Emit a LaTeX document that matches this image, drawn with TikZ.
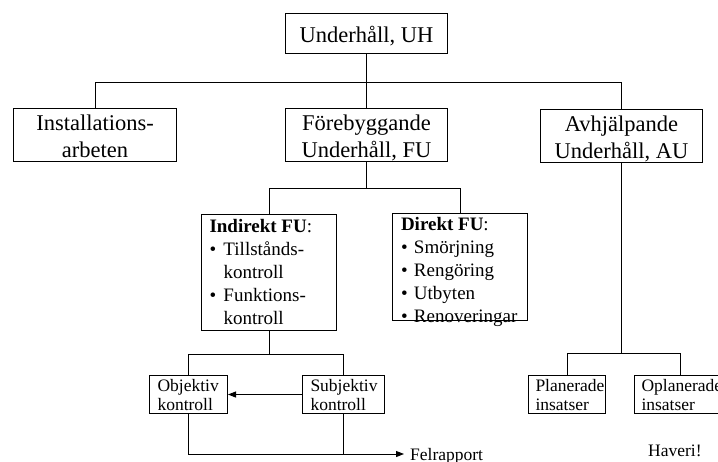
\documentclass[tikz,border=0pt]{standalone}
\usepackage{fontspec}
\setmainfont{Liberation Serif}
\usetikzlibrary{arrows.meta}

% font sizes for the three levels of the tree
\newcommand\fbig{\fontsize{22.5}{27.5}\selectfont}
\newcommand\fmid{\fontsize{19}{23}\selectfont}
\newcommand\fsmall{\fontsize{17.5}{19}\selectfont}
% a stack of lines of fixed width; the reference point is the first baseline
\newcommand\stacklines[3]{\vtop{\hsize=#1pt\baselineskip=#2pt\lineskiplimit=-20pt #3}}

\tikzset{
  x=1pt, y=-1pt,
  box/.style={draw, line width=1pt, inner sep=0pt, anchor=north west},
  conn/.style={draw, line width=1pt},
  tip/.style={-{Triangle[length=8pt,width=6pt]}},
}

\begin{document}
\begin{tikzpicture}
\useasboundingbox (0,0) rectangle (718,461);

% top level
\node[box, font=\fbig, text height=28.7pt, text depth=11.3pt] (uh) at (285,13)
  {\stacklines{162}{27.5}{\centerline{Underhåll, UH}}};

% second level
\node[box, font=\fbig, text height=21.5pt, text depth=31.5pt] (inst) at (13,108)
  {\stacklines{163}{27.5}{\centerline{Installations-}\centerline{arbeten}}};
\node[box, font=\fbig, text height=21.5pt, text depth=31.5pt] (fu) at (285,108)
  {\stacklines{162}{27.5}{\centerline{Förebyggande}\centerline{Underhåll, FU}}};
\node[box, font=\fbig, text height=21.5pt, text depth=31.5pt] (au) at (540,109)
  {\stacklines{162}{27.5}{\centerline{Avhjälpande}\centerline{Underhåll, AU}}};

% preventive maintenance: indirect and direct
\node[box, font=\fmid, text height=18pt, text depth=98pt] (ind) at (201,214)
  {\stacklines{135}{23}{%
    \leftline{\hspace*{8pt}\textbf{Indirekt FU}:}
    \leftline{\hspace*{8pt}\makebox[14pt][l]{\textbullet}Tillstånds-}
    \leftline{\hspace*{22pt}kontroll}
    \leftline{\hspace*{8pt}\makebox[14pt][l]{\textbullet}Funktions-}
    \leftline{\hspace*{22pt}kontroll}}};
\node[box, font=\fmid, text height=16.5pt, text depth=90.5pt] (dir) at (392,213)
  {\stacklines{135}{23}{%
    \leftline{\hspace*{8.5pt}\textbf{Direkt FU}:}
    \leftline{\hspace*{8.5pt}\makebox[13pt][l]{\textbullet}Smörjning}
    \leftline{\hspace*{8.5pt}\makebox[13pt][l]{\textbullet}Rengöring}
    \leftline{\hspace*{8.5pt}\makebox[13pt][l]{\textbullet}Utbyten}
    \leftline{\hspace*{8.5pt}\makebox[13pt][l]{\textbullet}Renoveringar}}};

% inspection types
\node[box, font=\fsmall, text height=16pt, text depth=22pt] (obj) at (149,375)
  {\stacklines{78}{19}{\leftline{\hspace*{8pt}Objektiv}\leftline{\hspace*{8pt}kontroll}}};
\node[box, font=\fsmall, text height=16pt, text depth=22pt] (subj) at (302,375)
  {\stacklines{82}{19}{\leftline{\hspace*{8pt}Subjektiv}\leftline{\hspace*{8pt}kontroll}}};

% corrective maintenance
\node[box, font=\fsmall, text height=16pt, text depth=22pt] (plan) at (528,375)
  {\stacklines{77}{19}{\leftline{\hspace*{7pt}Planerade}\leftline{\hspace*{7pt}insatser}}};
\node[box, font=\fsmall, text height=16pt, text depth=22pt] (oplan) at (634,375)
  {\stacklines{92}{19}{\leftline{\hspace*{7pt}Oplanerade}\leftline{\hspace*{7pt}insatser}}};

% free labels
\node[font=\fsmall, anchor=west, inner xsep=6pt, inner ysep=0pt,
      text height=13.5pt, text depth=1.5pt] (felr) at (404,454) {Felrapport};
\node[font=\fsmall, anchor=base west, inner sep=0pt] (hav) at (648,456) {Haveri!};

% connectors: top level
\draw[conn] (uh.south) -- ++(0,28) coordinate (bus1);
\draw[conn] (bus1) -| (inst.north);
\draw[conn] (bus1) -| (au.north);
\draw[conn] (bus1) -- (fu.north);

% connectors: preventive branch
\draw[conn] (fu.south) -- ++(0,26) coordinate (bus2);
\draw[conn] (bus2) -| (ind.north);
\draw[conn] (bus2) -| (dir.north);

\draw[conn] (ind.south) -- ++(0,23) coordinate (bus3);
\draw[conn] (bus3) -| (obj.north);
\draw[conn] (bus3) -| (subj.north);
\draw[conn, tip] (subj.west) -- (obj.east);
\draw[conn, tip] (obj.south) |- (felr.west);
\draw[conn] (subj.south) -- (subj.south |- felr.west);

% connectors: corrective branch
\draw[conn] (au.south) -- ++(0,190) coordinate (bus4);
\draw[conn] (bus4) -| (plan.north);
\draw[conn] (bus4) -| (oplan.north);
\end{tikzpicture}
\end{document}
